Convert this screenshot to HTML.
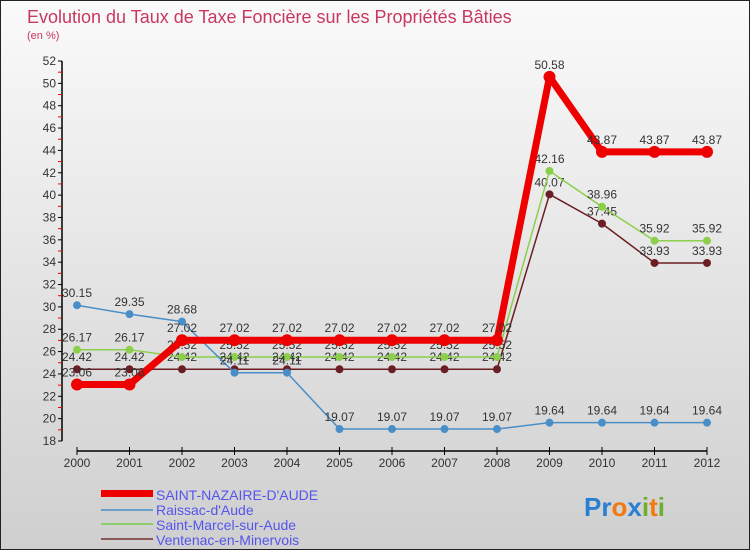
<!DOCTYPE html>
<html><head><meta charset="utf-8"><style>
body{margin:0;width:750px;height:550px;overflow:hidden;font-family:"Liberation Sans",sans-serif}
#wrap{position:relative;width:748px;height:548px;border:1px solid #222;background:linear-gradient(#fafafa,#cfcfcf)}
svg{position:absolute;left:0;top:0}
</style></head><body>
<div id="wrap">
<svg id="chart" width="750" height="550">
<text x="26" y="22" font-size="18" fill="#c8385f">Evolution du Taux de Taxe Foncière sur les Propriétés Bâties</text>
<text x="26" y="38" font-size="11" fill="#c8385f">(en %)</text>
<g id="axes"></g><g id="series"></g>
<g>
<rect x="100" y="489" width="52" height="7" fill="#e00"/>
<text x="155" y="499" font-size="14" fill="#5555ee">SAINT-NAZAIRE-D'AUDE</text>
<rect x="100" y="508" width="52" height="2" fill="#6a9ec8"/>
<text x="155" y="514" font-size="14" fill="#5555ee">Raissac-d'Aude</text>
<rect x="100" y="522" width="52" height="2" fill="#8ccf6a"/>
<text x="155" y="529" font-size="14" fill="#5555ee">Saint-Marcel-sur-Aude</text>
<rect x="100" y="537" width="52" height="2" fill="#8a5a5a"/>
<text x="155" y="544" font-size="14" fill="#5555ee">Ventenac-en-Minervois</text>
</g>
<text x="583" y="515" font-size="26" font-weight="bold"><tspan fill="#2a7fd0">Pr</tspan><tspan fill="#f07a10">o</tspan><tspan fill="#2a7fd0">x</tspan><tspan fill="#6cb030">i</tspan><tspan fill="#f07a10">t</tspan><tspan fill="#6cb030">i</tspan></text>
</svg></div>
<script>
const years=[2000,2001,2002,2003,2004,2005,2006,2007,2008,2009,2010,2011,2012];
const saintNazaire=[23.06,23.06,27.02,27.02,27.02,27.02,27.02,27.02,27.02,50.58,43.87,43.87,43.87];
const raissac=[30.15,29.35,28.68,24.11,24.11,19.07,19.07,19.07,19.07,19.64,19.64,19.64,19.64];
const saintMarcel=[26.17,26.17,25.52,25.52,25.52,25.52,25.52,25.52,25.52,42.16,38.96,35.92,35.92];
const ventenac=[24.42,24.42,24.42,24.42,24.42,24.42,24.42,24.42,24.42,40.07,37.45,33.93,33.93];
const yTicks=[18,20,22,24,26,28,30,32,34,36,38,40,42,44,46,48,50,52];
const NS="http://www.w3.org/2000/svg";
const x=i=>76+i*52.5;
const y=v=>440-(v-18)*(380/34);
function mk(t,a,p){const e=document.createElementNS(NS,t);for(const k in a)e.setAttribute(k,a[k]);p.appendChild(e);return e;}
const ax=document.getElementById('axes');
const yl=mk('line',{x1:61,y1:60,x2:61,y2:440,stroke:'#000','stroke-width':1.5},ax);


yTicks.forEach(v=>{
 mk('line',{x1:57,x2:61,y1:y(v),y2:y(v),stroke:'#000'},ax);
 if(v<52)mk('line',{x1:57,x2:61,y1:y(v+1),y2:y(v+1),stroke:'#e00'},ax);
 const t=mk('text',{x:55,y:y(v)+4,'font-size':12,'text-anchor':'end',fill:'#333'},ax);
 t.textContent=v;
 
 
});
const xl=mk('line',{x1:76,y1:450,x2:706,y2:450,stroke:'#000','stroke-width':1.5},ax);


years.forEach((yr,i)=>{
 mk('line',{x1:x(i),x2:x(i),y1:446,y2:454,stroke:'#000'},ax);
 const t=mk('text',{x:x(i),y:466,'font-size':12,'text-anchor':'middle',fill:'#333'},ax);
 t.textContent=yr;
 
 
});
const sg=document.getElementById('series');
function draw(vals,color,w,r,name){
 const g=mk('g',{},sg);
 
 
 mk('polyline',{points:vals.map((v,i)=>x(i)+','+y(v)).join(' '),fill:'none',stroke:color,'stroke-width':w,'stroke-linejoin':'round'},g);
 vals.forEach((v,i)=>{
  const c=mk('circle',{cx:x(i),cy:y(v),r:r,fill:color},g);
  
  
  const t=mk('text',{x:x(i),y:y(v)-8,'font-size':12,'text-anchor':'middle',fill:'#333'},g);
  t.textContent=String(v);
  
  
 });
}
draw(ventenac,'#6b1e24',1.5,4,'series-ventenac');
draw(saintMarcel,'#8ccf4a',1.5,4,'series-saint-marcel');
draw(raissac,'#4a8ec8',1.5,4,'series-raissac');
draw(saintNazaire,'#ee0000',7,6,'series-saint-nazaire');
</script>
</body></html>
